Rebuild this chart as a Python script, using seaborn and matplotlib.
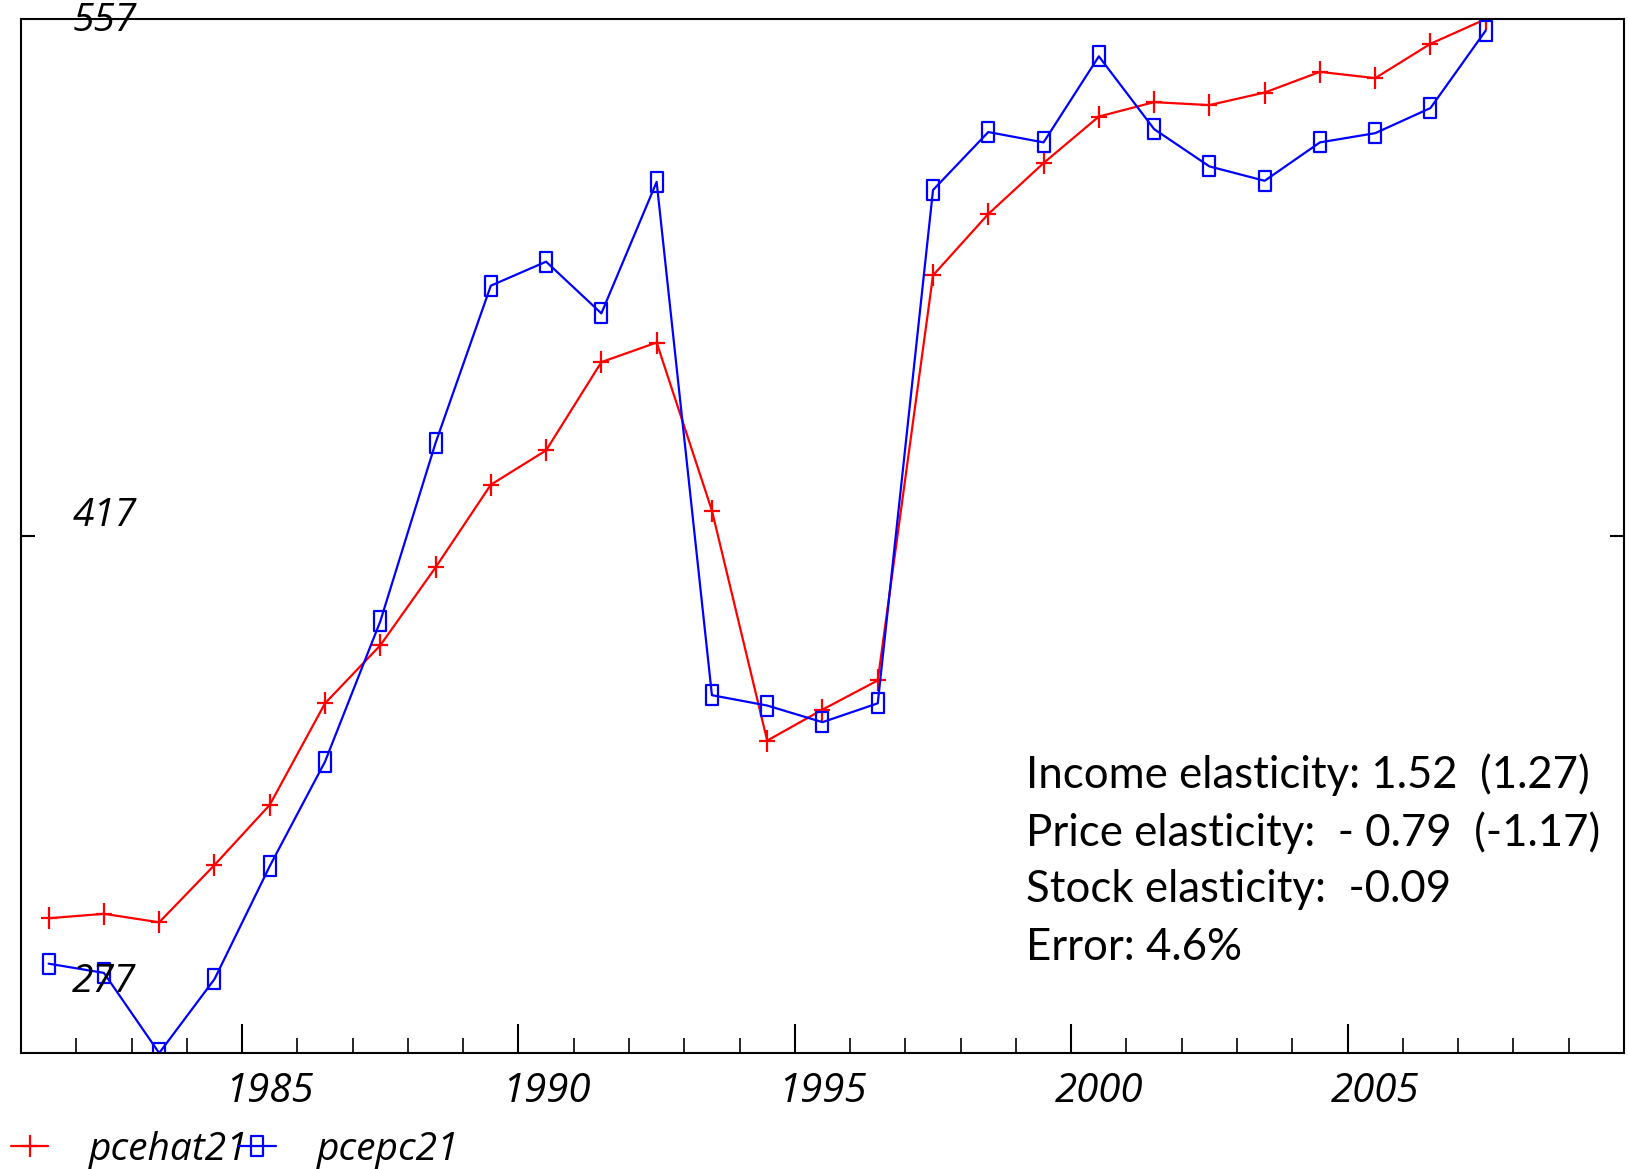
import numpy as np
import pandas as pd
import matplotlib
matplotlib.use("Agg")
import matplotlib.pyplot as plt
import matplotlib.transforms as mtransforms
from matplotlib.path import Path
import seaborn as sns

sns.set_style("ticks")
plt.rcParams['font.family'] = ['Open Sans', 'DejaVu Sans']
plt.rcParams['text.color'] = 'black'
plt.rcParams['xtick.color'] = 'black'
plt.rcParams['ytick.color'] = 'black'

# --- data ---
years = list(range(1981, 2008))
pcehat21 = [313.5, 314.7, 312.4, 327.9, 344.2, 371.7, 387.4, 408.5, 430.9, 440.2,
            464.1, 469.4, 423.9, 361.6, 370.0, 377.9, 487.6, 504.2, 518.0, 530.6,
            534.5, 533.7, 537.1, 542.7, 541.0, 550.3, 557.0]
pcepc21 = [301.2, 298.7, 277.0, 297.0, 327.6, 355.9, 393.9, 442.2, 484.8, 491.3,
           477.3, 512.9, 373.9, 371.1, 366.6, 371.7, 510.7, 526.4, 523.6, 546.9,
           527.2, 517.1, 513.2, 523.6, 526.1, 532.9, 553.9]
ytick_labels = [557, 417, 277]
xtick_labels = [1985, 1990, 1995, 2000, 2005]
notes = ["Income elasticity: 1.52  (1.27)",
         "Price elasticity:  - 0.79  (-1.17)",
         "Stock elasticity:  -0.09",
         "Error: 4.6%"]

df = pd.DataFrame({"year": years, "pcehat21": pcehat21, "pcepc21": pcepc21})

# tall markers like the original
plus_mark = Path([(-0.38, 0), (0.38, 0), (0, -0.5), (0, 0.5)],
                 [Path.MOVETO, Path.LINETO, Path.MOVETO, Path.LINETO])
box_mark = Path([(-0.32, -0.5), (0.32, -0.5), (0.32, 0.5), (-0.32, 0.5), (-0.32, -0.5)],
                [Path.MOVETO, Path.LINETO, Path.LINETO, Path.LINETO, Path.CLOSEPOLY])

fig = plt.figure(figsize=(16.28, 11.69), dpi=100)
ax = fig.add_axes([0.0129, 0.0992, 0.9846, 0.8845])

sns.lineplot(data=df, x="year", y="pcehat21", ax=ax, color="#ff0000", lw=1.6,
             marker=plus_mark, markersize=16, markeredgewidth=1.6,
             markerfacecolor="none", markeredgecolor="#ff0000", label="pcehat21")
sns.lineplot(data=df, x="year", y="pcepc21", ax=ax, color="#0000ff", lw=1.6,
             marker=box_mark, markersize=14, markeredgewidth=1.6,
             markerfacecolor="none", markeredgecolor="#0000ff", label="pcepc21")

ax.set_xlim(1980.5, 2009.5)
ax.set_ylim(277, 557)
ax.set_xlabel("")
ax.set_ylabel("")

for s in ax.spines.values():
    s.set_linewidth(1.5)
    s.set_color("black")

# y axis: single inward tick at the middle value, labels inside the frame
ax.set_yticks([ytick_labels[1]])
ax.set_yticklabels([])
ax.tick_params(axis="y", direction="in", length=10, width=1.5, left=True, right=True)
label_pos = {557: 0.998, 417: 0.519, 277: 0.069}
for val in ytick_labels:
    ax.text(0.052, label_pos[val], str(val), transform=ax.transAxes, ha="center",
            va="center", fontsize=28, style="italic")

# x axis: long ticks every five years at the year boundary, short ones each year
ax.set_xticks([y - 0.5 for y in xtick_labels])
ax.set_xticklabels([str(y) for y in xtick_labels], fontsize=29, style="italic")
ax.set_xticks(np.arange(1980.5, 2010, 1.0), minor=True)
ax.tick_params(axis="x", which="major", direction="in", length=21, width=1.5, pad=13)
ax.tick_params(axis="x", which="minor", direction="in", length=11, width=1.2)
shift = mtransforms.ScaledTranslation(27.6 / 100, 0, fig.dpi_scale_trans)
for lab in ax.get_xticklabels():
    lab.set_transform(lab.get_transform() + shift)

# notes
for i, line in enumerate(notes):
    ax.text(0.627, 0.269 - i * 0.0555, line, transform=ax.transAxes, ha="left",
            va="center", fontsize=31.5, family=["Lato", "DejaVu Sans"])

leg = ax.legend(loc="lower left", bbox_to_anchor=(0.007, 0.0), bbox_transform=fig.transFigure,
                ncol=2, frameon=False, fontsize=28, handlelength=0.95, handletextpad=1.05,
                columnspacing=-0.25, borderpad=0, borderaxespad=0)
for t in leg.get_texts():
    t.set_fontstyle("italic")

fig.savefig("out.png", dpi=100)
